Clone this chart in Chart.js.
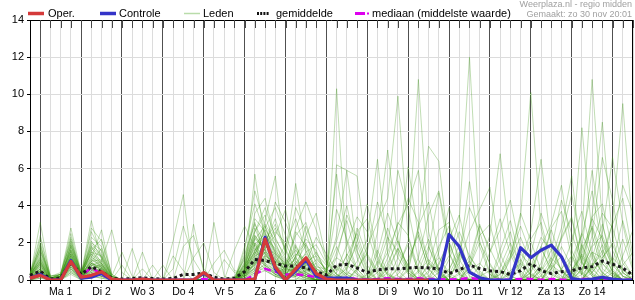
<!DOCTYPE html>
<html><head><meta charset="utf-8">
<script src="https://cdn.jsdelivr.net/npm/chart.js@4.4.1/dist/chart.umd.min.js"></script>
<style>html,body{margin:0;padding:0;background:#fff}#wrap{width:635px;height:300px;position:relative}</style>
</head><body><div id="wrap"><canvas id="c" width="635" height="300"></canvas></div>
<script>
// 6-hourly steps, step 0 = zo 30 nov 18:00
const dayLabels = ['Ma 1','Di 2','Wo 3','Do 4','Vr 5','Za 6','Zo 7','Ma 8','Di 9','Wo 10','Do 11','Vr 12','Za 13','Zo 14'];
const yTicks = [0,2,4,6,8,10,12,14];

const oper = [0.1, 0.25,0,0,1.0, 0.15,0.25,0.45,0.05, 0,0,0.05,0, 0,0,0,0, 0.4,0,0,0, 0,0.05,2.2,0.7, 0,0.6,1.2,0.35, 0.05,0,0,0, 0,0,0,0, 0,0,0];
const controle = [0.1, 0.3,0,0,1.05, 0.1,0.15,0.35,0, 0,0,0.05,0, 0,0,0,0, 0.35,0,0,0, 0,0.05,2.3,0.6, 0,0.5,1.1,0.2, 0.1,0.1,0.1,0, 0,0,0,0, 0,0,0,0, 2.45,1.8,0.42,0.12, 0,0,0,1.74, 1.2,1.6,1.88,1.25, 0.08,0,0.05,0.15, 0.05,0,0];
const gemiddelde = [0.25, 0.48,0.05,0.1,0.95, 0.3,0.72,0.45,0.1, 0.05,0.08,0.12,0.08, 0.05,0.08,0.3,0.3, 0.38,0.15,0.05,0.1, 0.45,1.1,1.05,0.9, 0.75,0.75,0.65,0.45, 0.27,0.8,0.85,0.65, 0.4,0.55,0.6,0.6, 0.65,0.68,0.65,0.6, 0.35,0.55,0.8,0.62, 0.5,0.45,0.3,0.5, 0.9,0.5,0.35,0.45, 0.5,0.65,0.72,1.02, 0.85,0.65,0.25];
const mediaan = [0.15, 0.28,0,0.02,1.0, 0.2,0.68,0.3,0, 0,0,0,0, 0,0,0,0, 0.05,0,0,0, 0,0.3,0.6,0.45, 0.3,0.3,0.25,0.15, 0.05,0.05,0.12,0.05, 0.02,0.05,0.1,0.05, 0.05,0.1,0.05,0.05, 0.02,0.05,0.1,0.05, 0.02,0.02,0.02,0.05, 0.05,0.02,0.05,0.02, 0.02,0.05,0.05,0.05, 0.02,0.02,0.02];

const leden = [
[0.2, 3.1,0.1,0.2,1.4, 0.2,1.6,0.8,0, 0,0,0,0, 0,0,0,0, 0,0,0,0.2, 1.1,2.4,1.6,0.8, 0.2,1.3,2.0,0.4, 0.1,10.3,1.1,0.3, 0,0,0.4,1.7, 0.5,0.1,0,0, 0,0.3,1.0,0.2, 0,0,0,0, 0.2,0.7,0.3,0, 0,0,0.4,1.1, 0.3,0,0],
[0.4, 1.8,0.2,0.3,2.8, 0.4,1.2,2.7,0.2, 0,0,0,0, 0,0,0,0, 0,0,0,0, 0.4,5.7,2.1,1.0, 0.6,0.9,0.4,0.1, 0,6.2,5.9,5.6, 1.2,0.3,0,0, 0,0,0.2,0.9, 2.1,0.4,0,0, 0,0,0.3,1.4, 0.8,0,0,0, 0,0,0,0.2, 0.6,2.2,0.5],
[0.1, 2.0,0,0.1,1.9, 0.3,3.2,1.1,0, 0,1.7,0,0, 0,0,0,0, 0,0,0,0, 0.8,1.5,3.2,5.6, 1.2,0.4,0.2,0, 0.3,2.4,5.9,1.6, 0.2,0,0,0, 0,0.5,1.8,0.4, 0,0,0,0, 0,1.2,2.6,0.5, 0,0,0,0, 0.3,1.9,0.7,0, 0,0,0],
[0.3, 1.1,0.1,0.2,2.2, 0.1,0.8,0.6,0.1, 0,0,0,0, 0,0,0,0, 0,0,0,0, 1.4,3.1,1.2,0.5, 0.3,2.6,1.8,0.6, 0.4,5.7,2.0,0.4, 0,0,0,0.3, 1.1,2.4,0.6,0, 0,0,0,0.2, 0.5,0,0,0, 0,0,0.9,2.3, 3.4,1.0,0.2,0, 0.4,0,0],
[0, 0.5,0,0,1.2, 0.2,0.6,0.3,0, 0,0,0,0, 0,2.1,4.6,0.3, 0,0,0,0, 0.2,1.0,1.7,2.4, 3.8,1.2,0.3,0, 0,0.2,0.6,2.1, 4.1,1.3,0.2,0, 0,0,0,0, 0.3,1.4,0.5,0, 0,0,0,0, 0.6,1.8,0.4,0, 0,0,0,0, 0,0.8,1.5],
[0.2, 0.4,0,0.1,0.9, 0.3,1.9,1.4,0.2, 0,0,0,0, 0,0,0,0, 0,3.1,0.2,0, 0.5,2.2,2.9,1.4, 0.2,0.7,1.1,0.5, 0,0,0.3,1.0, 2.2,6.5,1.4,0.2, 0,0,0,0, 0,0,0.7,2.0, 0.9,0,0,0, 0,0,0,0.6, 1.3,0.4,0,0, 0,0,0.2],
[0, 0.9,0,0.2,1.6, 0.2,0.5,0.4,0, 0,0,0,0, 0,0,0,0, 0,0,0,1.6, 2.9,1.8,0.7,0.3, 0.1,0.5,2.4,3.6, 1.1,0.3,0,0, 0,2.6,7.0,2.2, 0.4,0,0,0, 0,0,0,0, 0,0.3,1.6,0.4, 0,0,0,0, 0,0,1.2,3.0, 1.0,0.2,0],
[0.1, 0.3,0,0,0.7, 0.1,0.9,0.6,0, 0,0,1.5,0, 0,0,0,0, 0,0,0,0, 0.3,1.2,2.0,3.3, 1.5,5.2,1.6,0.5, 0.2,0,0,0.5, 1.8,3.1,4.4,9.9, 2.3,0.4,0,0, 0,0,0,0, 0,0.5,0.2,0, 0,0,0.6,1.3, 0.4,0,0,0, 0,0,0],
[0.2, 1.4,0.1,0.3,1.1, 0.2,2.3,1.8,0.2, 0,0,0,0, 0,0,0,3.0, 0.4,0,0,0, 0.6,2.8,1.4,0.8, 0.4,0.6,0.3,0, 0,1.5,3.2,1.2, 0,0,1.9,5.9, 3.8,1.1,0.2,0, 0,0,0,0, 0,0,0,0, 1.4,3.6,2.0,0.5, 0,0,0,0, 0,0.5,0.3],
[0, 0.2,0,0,0.5, 0,0.3,0.2,0, 0,0,0,0, 0,0,0,0, 0,0,0,0, 0.1,0.9,1.5,0.6, 0.2,0.3,0.1,0, 0,0.4,1.3,2.5, 0.8,0,0,1.2, 6.1,2.4,0.6,0, 0,0,0,0, 0,0,0.4,0.9, 0.3,0,0,0, 0,1.7,2.8,0.9, 0.2,0,0],
[0.3, 2.2,0.2,0.4,2.0, 0.5,1.4,0.9,0.1, 0,0,0,0, 0,0,0,0, 0,0,0,0, 1.8,4.1,2.5,1.1, 0.8,1.9,0.6,0.2, 0.5,1.8,0.5,0, 0,0,0,0.6, 2.1,10.8,2.6,0.3, 0,0,0,0, 0,0,0,0, 0,0.9,2.7,1.1, 0.2,0,0,0, 0,0,0],
[0.1, 0.7,0,0.1,1.3, 0.2,0.7,0.5,0, 0.8,0,0,0, 0,0,0,0, 0,0,0,0, 0.2,0.7,1.9,2.6, 2.0,0.8,1.2,0.3, 0,0,0,0, 0,0.4,1.5,3.0, 4.1,5.9,1.8,0.6, 0,0,0,0, 0,0,0,0, 0,0,0.8,0.4, 0,0,0,0.3, 1.2,0.6,0],
[0.2, 1.0,0,0.1,1.7, 0.3,2.8,2.1,0.3, 0,0,0,0, 0.8,0,0,0, 0,0,0,0, 0.5,1.6,2.2,1.2, 0.3,0.2,0.8,1.5, 0.4,0,0,0, 0,0,0,0, 0.5,2.8,7.2,6.4, 1.5,0.3,0,0, 0,0,0,0, 0,0,0,0, 0,0.6,1.8,2.4, 1.0,0.2,0],
[0, 0.1,0,0,0.4, 0.1,0.2,0.1,0, 0,0,0,0, 0,0,0,0, 0,0,0,0, 0,0.4,0.9,0.3, 0,0,0.5,1.1, 0.6,0.2,0,0, 0,0,0,0, 0,0,1.6,4.7, 1.4,0.3,0,0, 0,0,0,0, 0,0.5,1.2,0.6, 0,0,0,0, 0,0,0],
[0, 0.6,0,0.1,0.8, 0.2,1.1,0.7,0, 0,0,0,0, 0,0,0,0, 0,0,0,0, 0.3,1.9,1.1,0.4, 0.1,0.6,0.9,0.3, 0,0,0.7,1.9, 0.5,0,0,0, 0,0,0,0.8, 2.2,3.5,1.0,0.3, 0,0,0,0, 0,0,0,0, 0.5,1.4,0.6,0, 0,0,0],
[0.2, 1.5,0.1,0.2,1.8, 0.3,0.4,0.3,0, 0,0,0,0, 0,0,0,0, 0,0,0,0, 0.9,2.0,0.8,0.4, 0.6,1.2,0.5,0, 0,0,0,0, 0,0,0,0, 0,0,0,0.4, 1.3,3.2,12.0,2.1, 0.4,0,0,0, 0,0,0,0, 0,0.3,0.9,0.2, 0,0,0],
[0.1, 0.3,0,0,1.0, 0.1,0.6,0.9,0.1, 0,0,0,0, 0,0,0,0, 0,0,0,0, 0.2,0.5,1.3,0.9, 0.4,0.2,0,0, 0,0,0.4,0.2, 0,0,0.9,2.1, 0.6,0,0,0, 0,1.2,5.3,1.8, 0.3,0,0,0, 0,0,0,0, 0,0,0.7,1.6, 0.4,0,0],
[0.3, 0.8,0,0.2,1.2, 0.4,1.7,1.2,0.2, 0,0,0,0, 0,0,0,0, 0,0,0,0, 0.6,1.3,2.7,1.9, 1.0,0.3,0.1,0, 0,0.8,0.3,0, 0,0,0,0, 0,0,0,0, 0.2,0.9,2.6,3.8, 5.0,1.4,0.2,0, 0,0,0,0, 0,0,0,0, 0,0,0],
[0, 0.2,0,0,0.6, 0.1,0.4,0.2,0, 0,0,0,0, 0,0,0,0, 0,0,0,0, 0.1,0.7,0.5,0.2, 0,0.9,1.4,0.4, 0.2,0,0,0, 0,0,0,0, 0,0.4,1.1,0.5, 0,0,0,0.8, 2.4,6.8,1.9,0.3, 0,0,0,0, 0,0.6,1.5,0.4, 0,0,0],
[0.2, 1.2,0.1,0.3,1.5, 0.2,1.0,0.5,0, 0,0,0,0, 0,0,0,0, 0,0,0,0, 0.4,1.1,1.8,1.4, 0.9,0.6,0.2,0, 0,0,0,0, 0.3,1.6,0.4,0, 0,0,0,0, 0,0,0,0, 0,0.3,1.2,3.4, 10.1,2.8,0.7,0.2, 0,0,0,0, 0,0,0],
[0.1, 0.5,0,0.1,0.9, 0.2,0.8,1.0,0.1, 0,0,0,0, 0,0,0,0, 0,0,0,0, 0.3,2.4,1.6,0.7, 0.5,1.8,0.9,0.3, 0,0,0,0, 0,0,0,0.7, 1.9,0.5,0,0, 0,0,0,0, 0,0,0,0.9, 2.6,6.5,1.8,0.5, 0,0,0,0, 0,0,0],
[0, 0.4,0,0,0.7, 0,0.5,0.3,0, 0,0,0,0, 0,0,0,0, 0,0,0,0, 0.2,0.6,1.0,0.8, 0.3,0.1,0,0, 0,0,1.4,0.6, 0,0,0,0, 0,0,0,0, 0.5,1.9,0.6,0, 0,0,0,0, 0.4,1.8,3.0,5.1, 1.6,0.3,0,0, 0,0,0],
[0.2, 0.9,0,0.2,1.4, 0.3,1.3,0.6,0, 0,0,0,0, 0,0,0,0, 0,0,0,0, 0.8,1.7,0.9,0.5, 0.2,0.4,0.8,0.6, 0.3,0,0,0, 0,0,0.6,1.7, 0.8,0,0,0, 0,0,0,0, 0,0,0,0, 0,0.2,1.1,2.8, 5.6,1.2,0.3,0, 0,0.4,0],
[0.1, 0.2,0,0,0.5, 0.1,0.3,0.4,0, 0,0,0,0, 0,0,0,0, 0,0,0,0, 0.1,0.4,0.7,0.3, 0.1,0.3,0.2,0, 0,0,0,0, 0,0,0,0, 0,0,0.5,1.2, 0.4,0,0,0, 0,0,0,0, 0,0,0,0, 1.3,8.2,2.4,0.6, 0.2,0,0],
[0.3, 1.6,0.2,0.3,2.3, 0.3,1.5,1.3,0.1, 0,0,0,0, 0,0,0,0, 0,0,0,0, 0.7,1.4,2.3,1.7, 0.6,0.5,0.3,0.1, 0,0.6,0.2,0, 0,0,0,0, 0,0,0,0, 0,0,0,0, 0,0,0.5,1.1, 0.3,0,0,0, 0.2,2.6,10.8,3.1, 0.5,0,0],
[0, 0.3,0,0.1,0.6, 0.1,0.7,0.4,0, 0,0,0,0, 0,0,0,0, 0,0,0,0, 0.2,0.9,1.2,0.6, 0.3,0.7,0.4,0.2, 0,0,0,0, 0,0,0,0, 0,0,0,0, 0,0.4,1.3,0.5, 0,0,0,0, 0,0,0,0, 0,0.9,3.5,8.5, 2.2,0.4,0],
[0.2, 0.7,0,0.2,1.1, 0.2,1.2,0.9,0, 0,0,0,0, 0,0,0,0, 0,0,0,0, 0.5,2.0,1.4,0.6, 0.4,0.8,0.6,0.1, 0,0,0,0, 0,0,0,0, 0,0,0,0, 0,0,0,0, 0,0,0,0, 0,0,0.6,1.8, 0.7,0.3,2.4,6.6, 4.3,1.1,0.2],
[0.1, 0.4,0,0.1,0.8, 0.1,0.6,0.8,0.1, 0,0,0,0, 0,0,0,0, 0,0,0,0, 0.3,1.1,0.6,0.2, 0.1,0.2,1.0,1.3, 0.5,0,0,0, 0,0,0,0, 0,0,0.9,0.4, 0,0,0,0, 0,0,0,0, 0,0,0,0, 0,0,0.8,2.5, 6.6,3.0,0.6],
[0.2, 0.6,0,0.1,1.0, 0.2,0.9,0.7,0, 0,0,0,0, 0,0,0,0, 0,0,0,0, 0.4,0.8,1.9,1.1, 0.5,0.6,0.3,0, 0,0,0,0, 0,0,0,0, 0,0,0,0, 0,0,0,0, 0,0,0,0, 0.4,1.7,0.6,0, 0,0,0,0.9, 3.1,9.5,2.4],
[0, 0.2,0,0,0.4, 0,0.3,0.2,0, 0,0,0,0, 0,0,0,0, 0,0,0,0, 0.1,0.5,0.8,0.4, 0.2,0.4,0.1,0, 0,0,0,0, 0,1.0,0.3,0, 0,0,0,0, 0,0,0,0, 0,0,0,0, 0,0,0,0, 0,0,1.5,1.2, 2.0,5.1,3.6],
[0.1, 1.0,0,0.2,1.3, 0.2,0.8,0.6,0, 0,0,0,0, 0,0,0,0, 0,0,0,0, 0.6,1.5,1.0,0.8, 0.9,1.6,0.8,0.2, 0,0,0,0, 0,0,0,0, 0,0,0,0, 0,0,0,0, 0,0,0,0, 0,0,0,0, 0,1.8,5.9,2.2, 0.6,0,0],
[0.2, 0.5,0,0.1,0.9, 0.3,1.0,1.1,0.1, 0,0,0,0, 0,0,0,0, 0,0,0,0, 0.4,1.3,1.6,0.9, 0.7,0.3,0.5,0.4, 0,0,0,0, 0,0,0,0, 0,0,0,0, 0,0,0,0, 0,0,0,0, 0,0.5,1.6,4.3, 2.5,0.9,0.4,1.2, 1.9,0.6,0],
[0.4, 0.9,0.1,0.2,1.9, 0.4,2.0,1.6,0.2, 1.5,0.2,0,0, 0,0,0,0, 0,0,0,0, 1.0,2.2,1.7,1.0, 0.8,1.4,1.1,0.7, 0.6,1.2,0.8,0.3, 0,0.7,2.3,1.5, 0.4,0,0,0, 0,0,0.8,2.9, 1.7,0.5,0,0, 0,0,0,0, 0,0,0.7,1.9, 0.8,0.2,0],
[0.1, 0.4,0,0.1,0.7, 0.2,0.6,0.3,0, 0,0,0,0.8, 0,0,0,0, 0,0,1.1,0.4, 0.3,0.8,1.5,0.7, 0.3,0.9,1.9,1.0, 0.4,0.2,0,0, 0,0,0,0, 0.9,2.6,1.0,0.3, 0,0,0,0, 0,0.7,2.0,0.8, 0,0,0,0, 0.5,1.3,0.4,0, 0,0,0],
[0.2, 1.3,0.1,0.2,1.2, 0.2,1.5,1.0,2.7, 0.4,0,0,0, 0,0,0,0, 0,0,0,0, 0.5,1.0,1.3,0.9, 0.6,0.4,0.2,0, 0,0,0.5,2.8, 1.3,0.4,0,0, 0,0,0,0, 0,0,0,0, 0,0,0,0, 0,0,0.9,2.2, 3.3,0.9,0.2,0, 0,0,0],
[0, 0.1,0,0,0.3, 0,0.2,0.1,0, 0,0,0,0, 0,0,0,0, 0,0,0,0, 0,0.3,0.5,0.2, 0,0,0,0, 0,0,0,0, 0,0,0,0, 0,0,0,0, 0,0,0,0, 0,0,0,0, 0,0,0,0, 0,0,0,0, 0,0,0,0, 0,0,0],
[0.3, 1.6,0.1,0.3,1.6, 0.3,2.6,1.5,0.1, 0,0,0,0, 0,0,0,0, 0,0,0,0, 1.2,2.6,3.9,2.3, 1.1,0.5,0.2,0, 0,0,0,0, 0,0,0,0, 0,0,0,0, 0.6,1.5,0.4,0, 0,0,0,0, 0,0,0,0, 0,0,0,0, 0,0,0],
[0.1, 0.6,0,0.1,1.0, 0.2,1.1,0.8,0, 0,0,0,0, 0,0,0,0, 0,0,0,0, 0.4,1.2,0.8,0.3, 0.2,1.3,2.2,1.6, 0.3,0,0,0, 0,0,0,0, 0,0,0.8,2.7, 3.1,0.8,0,0, 0,0,0,0, 0,0,0,0, 0,0,0.6,0.9, 0.3,0,0],
[0.2, 0.8,0,0.1,1.4, 0.1,0.9,0.5,0, 0,0,0,0, 0,0,0,0, 0,0,0,0, 0.3,1.6,2.4,1.5, 0.4,0.2,0.6,0.9, 0.2,0,0,0, 0,0,0,0, 0,0,0,0, 0,0,0,0, 0,0,1.1,2.3, 0.9,0.2,0,0, 0,0,0,0, 0,0,0],
[0.3, 2.4,0.2,0.3,2.1, 0.4,1.8,1.3,0.2, 0,0,0,0, 0,0,0,0, 0,0,0,0, 0.7,3.3,2.6,1.3, 0.5,1.0,0.7,0.3, 0.2,0,0,0.6, 1.4,0.5,0,0, 0,0,0,0, 0,0,0,0, 0,0,0,0, 0,0,0,0, 0,1.1,2.9,1.4, 0.5,0,0],
[0.2, 1.2,0.1,0.2,1.6, 0.3,1.4,0.7,0, 0,0,0.6,0, 0,1.3,0.5,0, 0,0,0,0, 0.6,2.6,3.5,1.8, 0.9,2.4,3.1,1.2, 0.5,3.8,2.2,0.6, 0,1.4,3.6,2.0, 0.7,0,0,1.5, 3.9,2.2,0.5,0, 0,1.6,3.2,1.0, 0.2,0,0,2.4, 4.6,1.8,0.3,0, 0,1.3,2.7],
[0.1, 0.5,0,0.1,1.1, 0.1,0.6,0.5,0, 0,0,0,0, 0,0,1.8,2.4, 0.6,0,0,0, 0.3,0.9,2.1,3.0, 1.7,0.5,0.9,2.3, 1.4,0.5,1.9,3.4, 2.6,0.8,0,0, 0.6,2.9,4.2,1.3, 0.2,0,0.7,2.4, 3.0,0.9,0,0, 0,0.6,2.8,3.7, 1.2,0.3,3.4,4.1, 1.6,0.4,0],
[0.2, 0.8,0,0.2,1.0, 0.2,1.8,0.9,0, 0,0,0,0, 0,0,0,1.2, 2.0,0.4,0,0, 0.9,3.6,4.4,2.2, 1.3,3.9,2.6,0.8, 0.3,0,0.9,2.6, 3.3,1.1,0.3,0, 0,0.8,2.2,0.5, 0,1.3,3.9,2.6, 0.8,0,0,0.6, 2.2,3.1,1.0,0, 0,0.5,1.9,3.6, 2.8,0.9,0.2],
[0.3, 1.9,0.1,0.3,2.5, 0.3,1.0,1.7,0.2, 0,0,0,0, 0,0,0,0, 0,0,0,0, 1.6,4.8,2.9,1.5, 0.7,1.1,2.9,1.4, 0.8,2.1,4.0,1.5, 0.4,0,1.2,3.1, 2.4,0.6,0,0, 0,0,1.1,3.0, 1.5,2.7,4.3,1.6, 0.4,0,0,0, 0.9,2.4,4.8,1.7, 0.4,0,0],
[0.1, 0.3,0,0,0.8, 0.1,0.5,0.6,0, 0,0,0,0, 0,0,0,0, 0,0.9,1.6,0.5, 0.4,1.4,2.8,3.9, 2.4,1.0,0.4,0.1, 0,0,0,0.6, 1.5,4.2,2.3,0.5, 0,0,0.4,1.8, 2.9,1.1,0.2,0, 0,0.4,1.3,3.6, 2.1,0.5,0,0, 0,1.4,3.3,2.2, 0.9,3.2,1.1],
[0.2, 1.1,0,0.1,1.3, 0.2,2.1,1.2,0.1, 0,0,0,0, 0,0.6,2.9,1.1, 0.2,0,0,0, 0.8,2.3,1.6,4.2, 3.1,1.7,0.6,0.2, 0,0.7,0.3,0, 0,0,0.7,2.4, 4.4,3.1,0.9,0.2, 0,0,0.5,0.9, 0.3,0,1.2,2.9, 1.4,0.3,0,0, 1.1,2.5,1.2,0.4, 0,0,0.6],
[0, 0.4,0,0.1,0.6, 0.1,0.4,0.2,0, 0,0,0,0, 0,0,0,0, 0,0,0,0, 0.2,1.0,3.0,2.1, 0.6,2.8,4.2,2.7, 1.0,0.3,0,0, 0,0,0,0, 0,1.2,3.5,4.8, 2.0,0.6,0,0, 1.5,3.3,1.4,0.2, 0,0,0,0, 0,0,0.8,1.4, 3.0,4.4,1.3],
[0.3, 1.7,0.1,0.2,1.8, 0.3,1.6,2.2,0.3, 0,0,0,0, 0,0,0,0, 0,0,0,0, 1.3,3.0,1.9,2.8, 1.6,0.4,0,0, 0,1.2,3.5,2.2, 0.6,0,0,0, 0,0,0,0, 1.1,2.6,1.3,0.4, 0,0,0,0, 0.7,2.3,1.6,0.5, 2.1,3.7,1.4,0.3, 0,0,0],
[0.1, 0.6,0,0.1,0.9, 0.2,0.7,0.4,0, 0,0,0,0, 0,0,0,0, 0,0,0,0, 0.3,0.6,1.1,0.9, 1.9,3.3,1.5,0.6, 0.2,0,0,0, 0,0.9,2.8,1.2, 0.3,0,0,0, 0,0,0,0, 0,0,0,0, 0,0,0,0, 0,0,0,0, 0,0,0],
[0.2, 1.0,0.1,0.2,1.5, 0.3,0.9,0.7,0.1, 0,0,0,0, 0,0,0,0, 0,0,0,0, 0.6,1.9,2.5,1.6, 0.8,0.6,1.5,1.9, 0.9,0.3,0,0, 0,0,0,0, 0,0,0,0, 0,0,0,0, 0,0,0,0, 0,0,0,0, 0,0,0,0, 0,0,0]
];

const N = 60;
const stepLabels = Array.from({length:N}, (_,i)=>String(i));
const isDayStart = i => (i-1) % 4 === 0;
const labelAt = i => ((i-3) % 4 === 0 && (i-3)/4 < dayLabels.length) ? dayLabels[(i-3)/4] : '';

const C_RED='#d43a3a', C_BLUE='#3434c8', C_MAG='#dd00ee', C_GREEN='rgba(60,150,20,0.32)';
const FONT = '"Liberation Sans", Arial, sans-serif';

const datasets = [
  {label:'Oper.', data:oper, borderColor:C_RED, borderWidth:3.2},
  {label:'Controle', data:controle, borderColor:C_BLUE, borderWidth:3.2},
  {label:'gemiddelde', data:gemiddelde, borderColor:'#1a1a1a', borderWidth:3, borderDash:[3,3]},
  {label:'mediaan', data:mediaan, borderColor:C_MAG, borderWidth:2.5, borderDash:[7,4]},
  ...leden.map((d,k)=>({label:'lid'+k, data:d, borderColor:C_GREEN, borderWidth:1}))
].map(ds=>Object.assign({pointRadius:0, tension:0, fill:false, spanGaps:false, borderJoinStyle:'round'}, ds));

const deco = {
  id:'deco',
  afterDraw(chart){
    const {ctx, chartArea:a, scales:{x}} = chart;
    ctx.save();
    ctx.strokeStyle='#000'; ctx.lineWidth=1; ctx.setLineDash([]);
    ctx.beginPath();
    ctx.moveTo(a.left, a.top+0.5); ctx.lineTo(a.right, a.top+0.5);
    ctx.moveTo(Math.floor(a.right)-0.5, a.top); ctx.lineTo(Math.floor(a.right)-0.5, a.bottom);
    ctx.stroke();
    ctx.strokeStyle='#444';
    ctx.beginPath();
    for (let i=1;i<N;i++){ const px=Math.round(x.getPixelForValue(i))+0.5; ctx.moveTo(px,a.top); ctx.lineTo(px,a.top+8); }
    ctx.stroke();
    // legend
    const ly=13.5;
    ctx.lineCap='butt';
    const seg=(x1,x2,col,w,dash)=>{ctx.strokeStyle=col;ctx.lineWidth=w;ctx.setLineDash(dash||[]);ctx.beginPath();ctx.moveTo(x1,ly);ctx.lineTo(x2,ly);ctx.stroke();};
    seg(28,44,C_RED,3.5); seg(100,116,C_BLUE,3.5); seg(184,200,'#b9dcaa',1.5);
    seg(257,269,'#111',3,[2,1.2]);
    seg(355,365,C_MAG,3); seg(367,369,C_MAG,2);
    ctx.setLineDash([]);
    ctx.fillStyle='#000'; ctx.font='11px '+FONT; ctx.textBaseline='middle'; ctx.textAlign='left';
    ctx.fillText('Oper.',48,ly); ctx.fillText('Controle',119,ly); ctx.fillText('Leden',203,ly);
    ctx.fillText('gemiddelde',276,ly); ctx.fillText('mediaan (middelste waarde)',372,ly);
    ctx.fillStyle='#a0a0a0'; ctx.font='9px '+FONT; ctx.textAlign='right';
    ctx.fillText('Weerplaza.nl - regio midden',632,4.5);
    ctx.fillText('Gemaakt: zo 30 nov 20:01',632,14.5);
    ctx.restore();
  }
};

new Chart(document.getElementById('c'), {
  type:'line',
  data:{labels:stepLabels, datasets},
  options:{
    responsive:false, animation:false, devicePixelRatio:1,
    layout:{padding:{top:20,right:0.5,left:0,bottom:0}},
    plugins:{legend:{display:false}, tooltip:{enabled:false}},
    scales:{
      x:{type:'category', offset:false,
         afterFit:s=>{s.height=20;},
         grid:{color:c=>isDayStart(c.index)?'#505050':'#dcdcdc', lineWidth:1, drawTicks:true, tickLength:4, tickColor:'#111'},
         border:{color:'#000', width:1},
         ticks:{autoSkip:false, maxRotation:0, padding:2, color:'#000', font:{family:FONT,size:10.5}, callback:(v,i)=>labelAt(i)}},
      y:{min:0, max:14,
         afterFit:s=>{s.width=30;},
         afterBuildTicks:s=>{s.ticks=yTicks.map(v=>({value:v}));},
         grid:{color:'#dcdcdc', lineWidth:1, drawTicks:true, tickLength:3, tickColor:'#000'},
         border:{color:'#000', width:1},
         ticks:{padding:3, color:'#000', font:{family:FONT,size:11}}}
    }
  },
  plugins:[deco]
});
</script></body></html>
